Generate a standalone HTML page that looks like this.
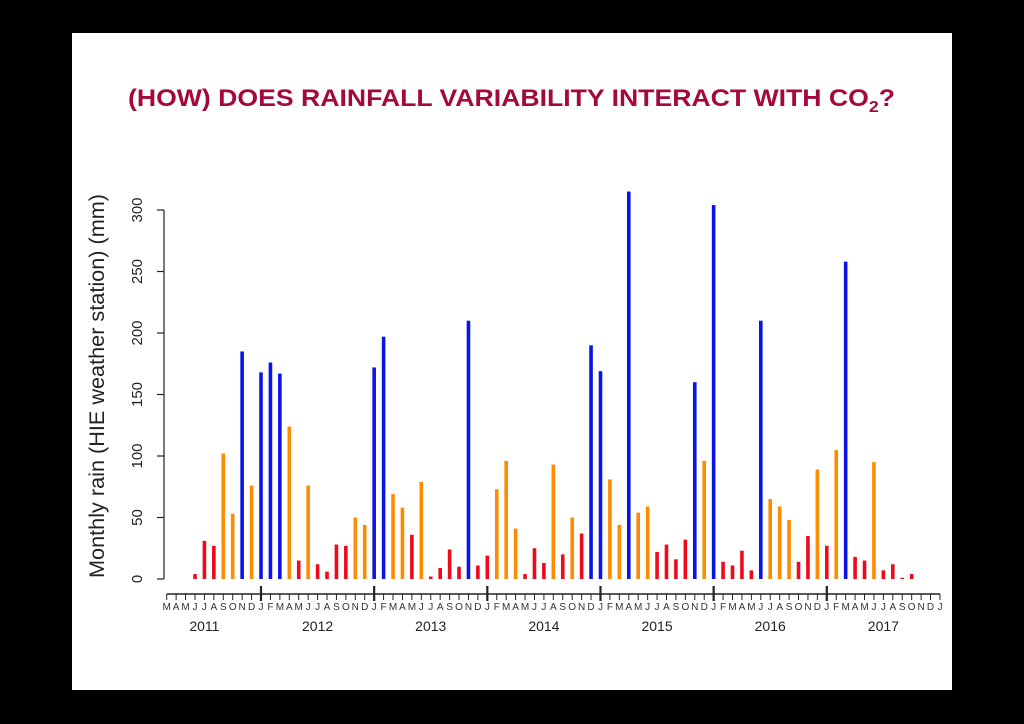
<!DOCTYPE html>
<html><head><meta charset="utf-8"><style>
html,body{margin:0;padding:0;background:#000;width:1024px;height:724px;overflow:hidden}
svg{display:block}
text{font-family:"Liberation Sans",sans-serif}
</style></head><body>
<svg id="chart" width="1024" height="724">
<rect x="72" y="33" width="880" height="657" fill="#fff"/>
<text x="128" y="106" font-size="24" font-weight="bold" fill="#a3093c" textLength="767" lengthAdjust="spacingAndGlyphs">(HOW) DOES RAINFALL VARIABILITY INTERACT WITH CO<tspan font-size="16" dy="6">2</tspan><tspan dy="-6">?</tspan></text>
<text transform="translate(104,386) rotate(-90)" text-anchor="middle" font-size="21" fill="#222" textLength="384" lengthAdjust="spacingAndGlyphs">Monthly rain (HIE weather station) (mm)</text>
<g id="axes"></g>
<g id="bars"></g>
</svg>
<script>
const months=["M","A","M","J","J","A","S","O","N","D","J","F","M","A","M","J","J","A","S","O","N","D","J","F","M","A","M","J","J","A","S","O","N","D","J","F","M","A","M","J","J","A","S","O","N","D","J","F","M","A","M","J","J","A","S","O","N","D","J","F","M","A","M","J","J","A","S","O","N","D","J","F","M","A","M","J","J","A","S","O","N","D","J"];
const years=["2011","2012","2013","2014","2015","2016","2017"];
const yTicks=[0,50,100,150,200,250,300];
// monthly rain from Mar 2011 (null = no bar)
const rain=[null,null,null,4,31,27,102,53,185,76,
168,176,167,124,15,76,12,6,28,27,50,44,
172,197,69,58,36,79,2,9,24,10,210,11,
19,73,96,41,4,25,13,93,20,50,37,190,
169,81,44,315,54,59,22,28,16,32,160,96,
304,14,11,23,7,210,65,59,48,14,35,89,
27,105,258,18,15,95,7,12,1,4];
const NS="http://www.w3.org/2000/svg";
const x0=166.7,dx=9.43,y0=579,ky=1.23;
const X=i=>x0+i*dx, Y=v=>y0-v*ky;
const axes=document.getElementById('axes'),bars=document.getElementById('bars');
function mk(tag,attrs,parent){const e=document.createElementNS(NS,tag);for(const k in attrs)e.setAttribute(k,attrs[k]);parent.appendChild(e);return e;}
let ya=mk('line',{x1:164,x2:164,y1:Y(300),y2:Y(0),stroke:'#222','stroke-width':1.2},axes);


yTicks.forEach(v=>{
 let t=mk('line',{x1:157,x2:164,y1:Y(v),y2:Y(v),stroke:'#222','stroke-width':1.2},axes);
 
 
 let l=mk('text',{transform:`translate(142,${Y(v)}) rotate(-90)`,'text-anchor':'middle','font-size':15,fill:'#222'},axes);
 l.textContent=v;
 
 
});
let xa=mk('line',{x1:X(0),x2:X(months.length-1),y1:594,y2:594,stroke:'#222','stroke-width':1.5},axes);


months.forEach((m,i)=>{
 const major=(i-10)%12===0&&i>=10&&i<months.length-1;
 let t=mk('line',{x1:X(i),x2:X(i),y1:major?586:594,y2:major?601:600,stroke:'#222','stroke-width':major?2.2:1},axes);
 
 
 let l=mk('text',{x:X(i),y:610,'text-anchor':'middle','font-size':10,fill:'#333'},axes);
 l.textContent=m;
 
 
});
years.forEach((y,k)=>{
 let l=mk('text',{x:X(4+12*k),y:631,'text-anchor':'middle','font-size':14,fill:'#222'},axes);
 l.textContent=y;
 
 
});
rain.forEach((v,i)=>{
 if(v===null)return;
 const c=v>150?'#0a14e6':(v>=40?'#ff8c00':'#ee0a1a');
 let b=mk('rect',{x:X(i)-1.8,y:Y(v),width:3.6,height:v*ky,fill:c},bars);
 
 
});
</script>
</body></html>
